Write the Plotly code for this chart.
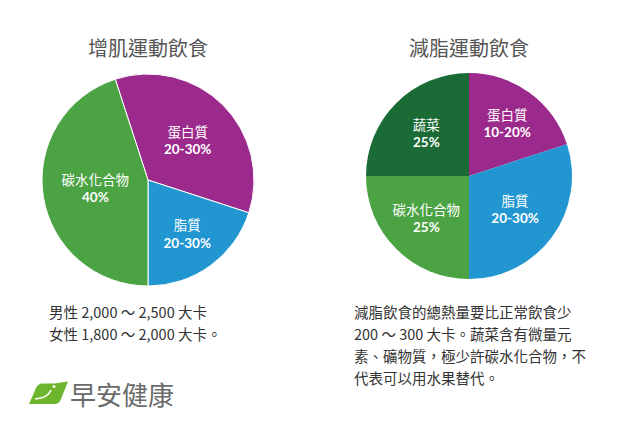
import plotly.graph_objects as go

W, H = 630, 421
OFF = 8  # page body margin

# 增肌運動飲食
gain_labels = ["蛋白質", "脂質", "碳水化合物"]
gain_text = ["20-30%", "20-30%", "40%"]
gain_values = [35, 20, 45]
gain_colors = ["#9c2a8c", "#2196d0", "#4ba343"]

# 減脂運動飲食
cut_labels = ["蛋白質", "脂質", "碳水化合物", "蔬菜"]
cut_text = ["10-20%", "20-30%", "25%", "25%"]
cut_values = [20, 30, 25, 25]
cut_colors = ["#9c2a8c", "#2196d0", "#4ba343", "#1b6b37"]

titles = ["增肌運動飲食", "減脂運動飲食"]
note_left = ["男性 2,000 ～ 2,500 大卡", "女性 1,800 ～ 2,000 大卡。"]
note_right = ["減脂飲食的總熱量要比正常飲食少",
              "200 ～ 300 大卡。蔬菜含有微量元",
              "素、礦物質，極少許碳水化合物，不",
              "代表可以用水果替代。"]

FONT = "Lato, Noto Sans CJK TC, sans-serif"
CJK = "Noto Sans CJK TC, sans-serif"


def px(x):
    return (x - OFF) / W


def py(y):
    return 1 - (y - OFF) / H


fig = go.Figure()

fig.add_trace(go.Pie(
    labels=gain_labels, values=gain_values,
    text=[f"{l}<br><b>{t}</b>" for l, t in zip(gain_labels, gain_text)],
    textinfo="text", textposition="inside", insidetextorientation="horizontal",
    sort=False, direction="clockwise", rotation=-18,
    marker=dict(colors=gain_colors, line=dict(color="white", width=1)),
    textfont=dict(family=FONT, size=13.5, color="white"),
    domain=dict(x=[px(42), px(254)], y=[py(286), py(74)]),
    hoverinfo="label+text", showlegend=False,
))

fig.add_trace(go.Pie(
    labels=cut_labels, values=cut_values,
    text=[f"{l}<br><b>{t}</b>" for l, t in zip(cut_labels, cut_text)],
    textinfo="text", textposition="inside", insidetextorientation="horizontal",
    sort=False, direction="clockwise", rotation=0,
    marker=dict(colors=cut_colors, line=dict(color="white", width=0)),
    textfont=dict(family=FONT, size=13.5, color="white"),
    domain=dict(x=[px(366), px(572)], y=[py(279), py(73)]),
    hoverinfo="label+text", showlegend=False,
))

annotations = []
for t, cx in zip(titles, [148, 469]):
    annotations.append(dict(text=t, x=px(cx), y=py(48), xref="paper", yref="paper",
                            showarrow=False, xanchor="center", yanchor="middle",
                            font=dict(family=CJK, size=20, color="#555555")))

for i, line in enumerate(note_left):
    annotations.append(dict(text=line, x=px(47), y=py(311 + 22 * i),
                            xref="paper", yref="paper", showarrow=False,
                            xanchor="left", yanchor="middle",
                            font=dict(family=CJK, size=14.5, color="#333333")))
for i, line in enumerate(note_right):
    annotations.append(dict(text=line, x=px(352), y=py(311 + 22.3 * i),
                            xref="paper", yref="paper", showarrow=False,
                            xanchor="left", yanchor="middle",
                            font=dict(family=CJK, size=14.5, color="#333333")))
annotations.append(dict(text="早安健康", x=px(68), y=py(393), xref="paper", yref="paper",
                        showarrow=False, xanchor="left", yanchor="middle",
                        font=dict(family=CJK, size=26, color="#6b6b6b")))


# logo leaf
def path(points):
    return "M " + " L ".join(f"{px(x):.4f},{py(y):.4f}" for x, y in points) + " Z"


leaf = [(29, 404), (33, 395), (36, 388), (38, 385), (41, 383.5), (55, 383.5),
        (68, 381.5), (63, 394), (61, 399), (59, 402.5), (56, 404)]
shapes = [dict(type="path", path=path(leaf), xref="paper", yref="paper",
               fillcolor="#6cb52d", line=dict(width=0))]
shapes.append(dict(type="path", xref="paper", yref="paper",
                   path=f"M {px(35):.4f},{py(399):.4f} Q {px(48):.4f},{py(398):.4f} {px(51):.4f},{py(390):.4f}",
                   line=dict(color="white", width=1.6)))
shapes.append(dict(type="circle", xref="paper", yref="paper",
                   x0=px(52.5), x1=px(55.5), y0=py(388), y1=py(385),
                   fillcolor="white", line=dict(width=0)))

fig.update_layout(
    width=W, height=H,
    margin=dict(l=0, r=0, t=0, b=0),
    paper_bgcolor="white", plot_bgcolor="white",
    annotations=annotations, shapes=shapes,
)

fig.write_html("out.html")
